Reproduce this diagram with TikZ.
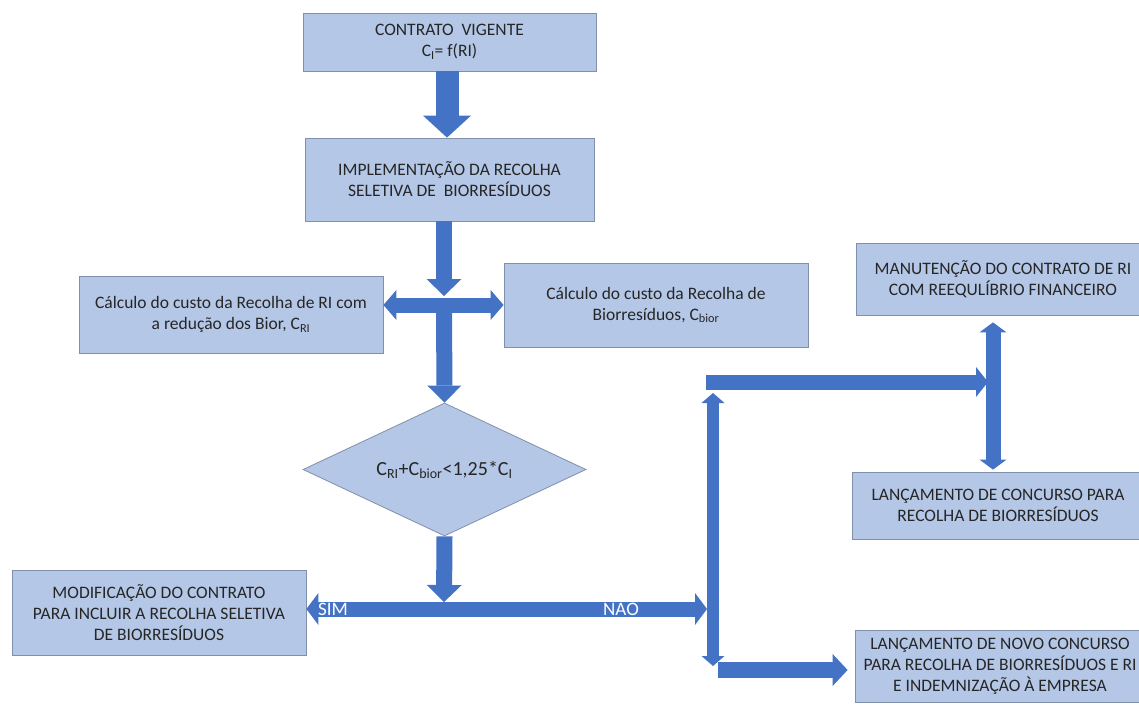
\documentclass[tikz,border=0pt]{standalone}
\usepackage{fontspec}
\setmainfont{Carlito}
\usetikzlibrary{arrows.meta,shapes.geometric,calc}
\definecolor{boxfill}{HTML}{B4C7E7}
\definecolor{boxline}{HTML}{8090AA}
\definecolor{flow}{HTML}{4472C4}
\definecolor{ink}{HTML}{262626}
\tikzset{
  box/.style={draw=boxline, line width=0.8pt, fill=boxfill, inner sep=0pt,
    align=center, text=ink, font=\fontsize{17.5}{21}\selectfont},
  flowline/.style={draw=flow, line width=#1},
  tips/.style 2 args={>={Triangle[width=#1,length=#2,line width=0pt]}},
  lab/.style={text=white, inner sep=0pt, font=\fontsize{19}{19}\selectfont}
}
\begin{document}
\begin{tikzpicture}[x=1pt,y=-1pt]
\useasboundingbox (0,0) rectangle (1139,706);
\fill[white] (0,0) rectangle (1139,706);
\clip (0,0) rectangle (1139,706);

% process boxes
\node[box, minimum width=293pt, minimum height=58pt] (b1) at (449.5,42)
  {CONTRATO \ VIGENTE\\C\textsubscript{I}= f(RI)};
\node[box, minimum width=289pt, minimum height=83pt] (b2) at (449.5,179.5)
  {IMPLEMENTAÇÃO DA RECOLHA\\SELETIVA DE \ BIORRESÍDUOS};
\node[box, minimum width=304pt, minimum height=77pt] (bl) at (231,314.5)
  {Cálculo do custo da Recolha de RI com\\a redução dos Bior, C\textsubscript{RI}};
\node[box, minimum width=304pt, minimum height=84pt] (br) at (656,305)
  {Cálculo do custo da Recolha de\\Biorresíduos, C\textsubscript{bior}};

% decision: the shape is sized on its own, the condition sits on top of it
\node[box, diamond, minimum width=283pt, minimum height=133pt] (d) at (444.5,469.5) {};
\node[text=ink, inner sep=0pt, font=\fontsize{20}{24}\selectfont] (dt) at (d.center)
  {C\textsubscript{RI}+C\textsubscript{bior}<1,25*C\textsubscript{I}};

\node[box, minimum width=294pt, minimum height=85pt] (bm) at (159,612.5)
  {MODIFICAÇÃO DO CONTRATO\\PARA INCLUIR A RECOLHA SELETIVA\\DE BIORRESÍDUOS};
\node[box, minimum width=294pt, minimum height=72pt] (bman) at (1003,279)
  {MANUTENÇÃO DO CONTRATO DE RI\\COM REEQULÍBRIO FINANCEIRO};
\node[box, minimum width=292pt, minimum height=67pt] (bconc) at (998,505.5)
  {LANÇAMENTO DE CONCURSO PARA\\RECOLHA DE BIORRESÍDUOS};
\node[box, minimum width=290pt, minimum height=72pt] (bnovo) at (1000,666)
  {LANÇAMENTO DE NOVO CONCURSO\\PARA RECOLHA DE BIORRESÍDUOS E RI\\E INDEMNIZAÇÃO À EMPRESA};

% junction points of the flow
\coordinate (c1) at (447,0);
\coordinate (x1) at (444,305);
\coordinate (j2) at (444,609);
\coordinate (vt) at (713,393);
\coordinate (vb) at (713,666);
\coordinate (hc) at (706,382);
\coordinate (ht) at (988,382);
\coordinate (bs) at (718,670);
\coordinate (vr) at (993,0);

% vertical main flow
\draw[flowline=23pt, tips={48pt}{22pt}, ->] (b1.south -| c1) -- (b2.north -| c1);
\draw[flowline=16pt, tips={35pt}{17pt}, ->] (b2.south -| x1) -- ($(x1)+(0,-9)$);
\draw[flowline=15pt, tips={30pt}{13pt}, <->] (bl.east |- x1) -- (br.west |- x1);
\draw[flowline=16pt, tips={34pt}{17pt}, ->] (x1) -- (d.north);
\draw[flowline=16pt, tips={35pt}{17pt}, ->] (d.south) -- ($(j2)+(0,-7)$);

% decision branches
\draw[flowline=15pt, tips={32pt}{12pt}, <->] (bm.east |- j2) -- ($(j2 -| vb)+(-6,0)$);
\node[lab] (sim) at (333,609) {SIM};
\node[lab] (nao) at (621,609) {NAO};
\draw[flowline=12pt, tips={23pt}{10pt}, <->] (vt) -- (vb);
\draw[flowline=15pt, tips={30pt}{12pt}, ->] (hc) -- (ht);
\draw[flowline=15pt, tips={27pt}{10pt}, <->, shorten <=7pt, shorten >=2pt]
  (bman.south -| vr) -- (bconc.north -| vr);
\draw[flowline=16pt, tips={32pt}{15pt}, ->, shorten >=7pt] (bs) -- (bnovo.west |- bs);
\end{tikzpicture}
\end{document}
